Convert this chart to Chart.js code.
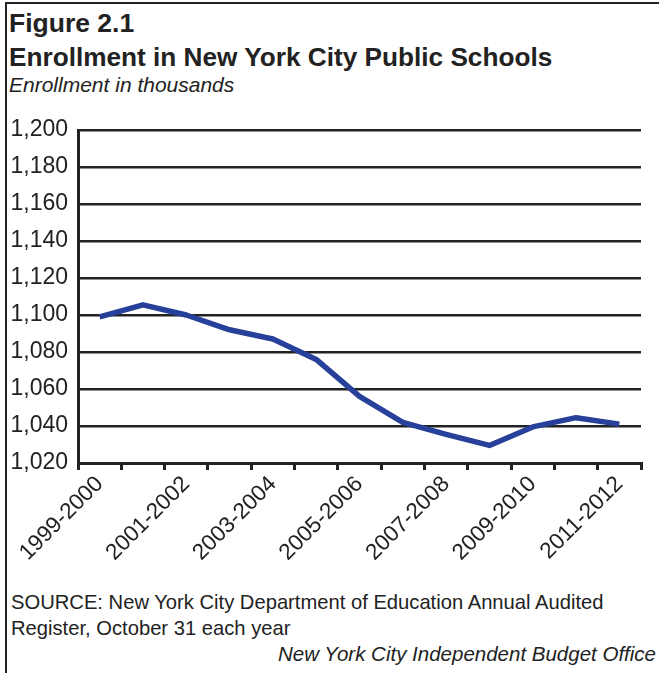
<!DOCTYPE html>
<html>
<head>
<meta charset="utf-8">
<script src="https://cdn.jsdelivr.net/npm/chart.js@4/dist/chart.umd.min.js"></script>
<style>
  html, body { margin: 0; padding: 0; background: #fff; }
  body { width: 659px; height: 673px; position: relative; overflow: hidden; font-family: "Liberation Sans", Arial, sans-serif; color: #222; }
  .frame { position: absolute; left: 5px; top: 2px; right: 0; bottom: 0; border-top: 2px solid #222; border-left: 2px solid #222; }
  .t { position: absolute; left: 9px; white-space: nowrap; }
  .fig { top: 8px; font-size: 26.5px; font-weight: bold; }
  .title { top: 42px; font-size: 26.2px; font-weight: bold; }
  .sub { top: 73px; font-size: 21px; font-style: italic; }
  .src { top: 589px; font-size: 20.2px; line-height: 26px; left: 11px; }
  .ibo { top: 642px; right: 3px; left: auto; font-size: 20.5px; font-style: italic; }
  .box { position: absolute; left: 0; top: 100px; width: 659px; height: 480px; }
</style>
</head>
<body>
<div class="frame"></div>
<div class="t fig">Figure 2.1</div>
<div class="t title">Enrollment in New York City Public Schools</div>
<div class="t sub">Enrollment in thousands</div>
<div class="box"><canvas id="enrollChart"></canvas></div>
<div class="t src">SOURCE: New York City Department of Education Annual Audited<br>Register, October 31 each year</div>
<div class="t ibo">New York City Independent Budget Office</div>

<script>
const schoolYears = [
    '1999-2000', '2000-2001', '2001-2002', '2002-2003', '2003-2004',
    '2004-2005', '2005-2006', '2006-2007', '2007-2008', '2008-2009',
    '2009-2010', '2010-2011', '2011-2012'
]

// enrollment, thousands
const enrollment = [1099, 1105.5, 1100, 1092, 1087, 1076, 1056, 1042, 1035.5, 1029.5, 1039.5, 1044.5, 1041]

const yMin = 1020
const yMax = 1200
const yStep = 20

const ink = '#222'
const fontFamily = '"Liberation Sans", Arial, sans-serif'

const enrollChart = document.getElementById('enrollChart')

new Chart(enrollChart, {
    type: 'line',

    data: {
        labels: schoolYears,

        datasets: [
            {
                label: 'Enrollment',
                data: enrollment,
                borderColor: '#27409a',
                borderWidth: 5.5,
                pointRadius: 0,
                tension: 0,
                borderJoinStyle: 'round'
            }
        ]
    },

    options: {
        responsive: true,
        maintainAspectRatio: false,
        animation: false,

        layout: {
            padding: { top: 30, right: 18, bottom: 0, left: 0 }
        },

        plugins: {
            legend: { display: false },
            tooltip: { enabled: false }
        },

        scales: {
            x: {
                offset: true,
                grid: {
                    offset: true,
                    drawOnChartArea: false,
                    drawTicks: true,
                    tickLength: 7,
                    color: ink,
                    lineWidth: 3
                },
                border: { color: ink, width: 3 },
                ticks: {
                    autoSkip: false,
                    maxRotation: 45,
                    minRotation: 45,
                    padding: 1,
                    color: ink,
                    font: { family: fontFamily, size: 22.5 },
                    callback: (value, index) => index % 2 === 0 ? schoolYears[index] : ''
                },
                afterFit: (scale) => { scale.height = 117 }
            },

            y: {
                min: yMin,
                max: yMax,
                grid: {
                    drawTicks: false,
                    color: ink,
                    lineWidth: 2.5
                },
                border: { color: ink, width: 3 },
                ticks: {
                    stepSize: yStep,
                    padding: 10,
                    color: ink,
                    font: { family: fontFamily, size: 23 },
                    callback: (value) => value.toLocaleString('en-US')
                },
                afterFit: (scale) => { scale.width = 78 }
            }
        }
    }
})
</script>
</body>
</html>
